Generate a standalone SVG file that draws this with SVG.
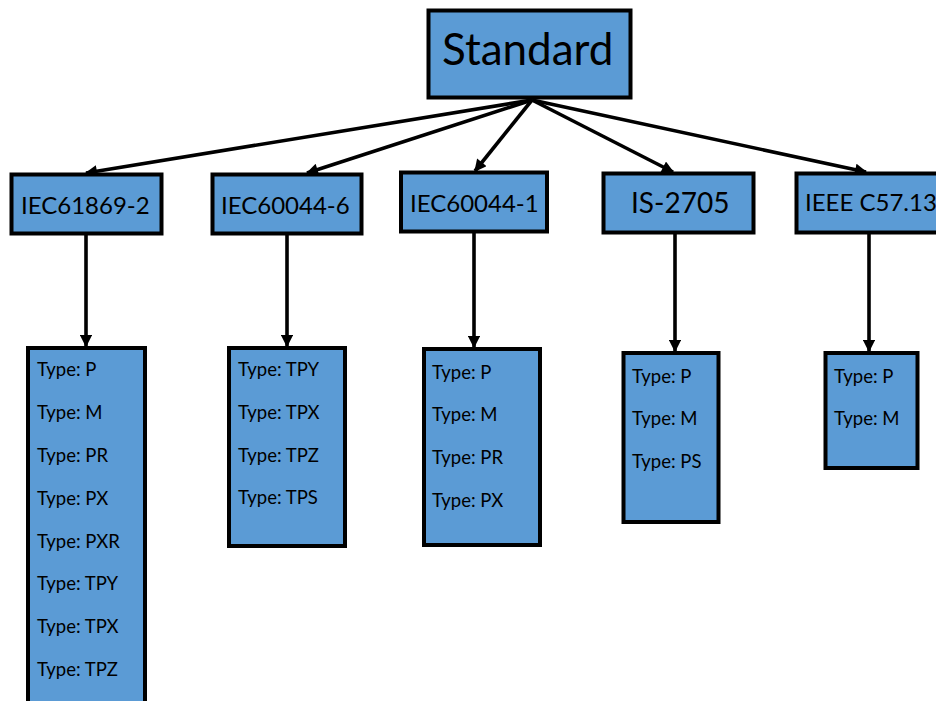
<svg xmlns="http://www.w3.org/2000/svg" width="936" height="701" viewBox="0 0 936 701">
  <defs>
    <marker id="arrow" viewBox="0 0 10 10" refX="9" refY="5" markerWidth="3.6" markerHeight="3.4" orient="auto" markerUnits="strokeWidth">
      <path d="M0,0 L10,5 L0,10 Z" fill="#000"/>
    </marker>
    <style>
      .box { fill: #5B9BD5; stroke: #000; stroke-width: 4; }
      .link { fill: none; stroke: #000; stroke-width: 3.6; marker-end: url(#arrow); }
      .title { font-family: Lato, "Open Sans", sans-serif; font-size: 44px; fill: #000; }
      .std { font-family: Lato, "Open Sans", sans-serif; font-size: 24px; fill: #000; }
      .type { font-family: Lato, "Open Sans", sans-serif; font-size: 18.5px; fill: #000; }
    </style>
  </defs>
  <rect width="936" height="701" fill="#fff"/>

  <!-- connectors -->
  <g id="connectors">
    <line class="link" x1="532" y1="100" x2="86" y2="173"/>
    <line class="link" x1="532" y1="100" x2="307" y2="173"/>
    <line class="link" x1="532" y1="100" x2="475" y2="171"/>
    <line class="link" x1="532" y1="100" x2="673" y2="172"/>
    <line class="link" x1="532" y1="100" x2="866" y2="172"/>
    <line class="link" x1="86" y1="234" x2="86" y2="346"/>
    <line class="link" x1="287" y1="235" x2="287" y2="346"/>
    <line class="link" x1="474" y1="232" x2="474" y2="347"/>
    <line class="link" x1="675" y1="233" x2="675" y2="351"/>
    <line class="link" x1="869" y1="233" x2="869" y2="351"/>
  </g>

  <!-- root -->
  <g id="standard">
    <rect class="box" x="428.5" y="10.5" width="202" height="87"/>
    <text class="title" x="442" y="65">Standard</text>
  </g>

  <!-- standards -->
  <g id="iec61869-2">
    <rect class="box" x="11.5" y="174.5" width="150" height="59"/>
    <text class="std" x="21" y="214">IEC61869-2</text>
  </g>
  <g id="iec60044-6">
    <rect class="box" x="212.5" y="174.5" width="149" height="59"/>
    <text class="std" x="221" y="214">IEC60044-6</text>
  </g>
  <g id="iec60044-1">
    <rect class="box" x="401" y="172.5" width="146" height="59"/>
    <text class="std" x="410" y="212">IEC60044-1</text>
  </g>
  <g id="is-2705">
    <rect class="box" x="603.5" y="173.5" width="150" height="59"/>
    <text class="std" x="631" y="213" style="font-size:28px">IS-2705</text>
  </g>
  <g id="ieee-c57-13">
    <rect class="box" x="796.5" y="173.5" width="150" height="59"/>
    <text class="std" x="805" y="211">IEEE C57.13</text>
  </g>

  <!-- accuracy classes -->
  <g id="types-iec61869-2">
    <rect class="box" x="28" y="348" width="117" height="360"/>
    <text class="type" x="37" y="376">Type: P</text>
    <text class="type" x="37" y="419">Type: M</text>
    <text class="type" x="37" y="462">Type: PR</text>
    <text class="type" x="37" y="505">Type: PX</text>
    <text class="type" x="37" y="548">Type: PXR</text>
    <text class="type" x="37" y="590">Type: TPY</text>
    <text class="type" x="37" y="633">Type: TPX</text>
    <text class="type" x="37" y="676">Type: TPZ</text>
  </g>
  <g id="types-iec60044-6">
    <rect class="box" x="229" y="348" width="116" height="198"/>
    <text class="type" x="238" y="376">Type: TPY</text>
    <text class="type" x="238" y="419">Type: TPX</text>
    <text class="type" x="238" y="462">Type: TPZ</text>
    <text class="type" x="238" y="504">Type: TPS</text>
  </g>
  <g id="types-iec60044-1">
    <rect class="box" x="424" y="349" width="116" height="196"/>
    <text class="type" x="432" y="379">Type: P</text>
    <text class="type" x="432" y="421">Type: M</text>
    <text class="type" x="432" y="464">Type: PR</text>
    <text class="type" x="432" y="507">Type: PX</text>
  </g>
  <g id="types-is-2705">
    <rect class="box" x="623.5" y="353" width="95" height="169"/>
    <text class="type" x="632" y="383">Type: P</text>
    <text class="type" x="632" y="425">Type: M</text>
    <text class="type" x="632" y="468">Type: PS</text>
  </g>
  <g id="types-ieee-c57-13">
    <rect class="box" x="825.5" y="353" width="92" height="115"/>
    <text class="type" x="834" y="383">Type: P</text>
    <text class="type" x="834" y="425">Type: M</text>
  </g>
</svg>
